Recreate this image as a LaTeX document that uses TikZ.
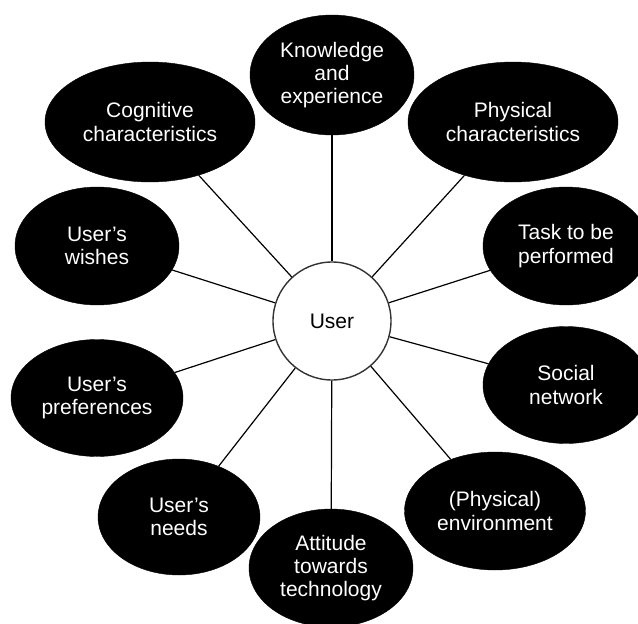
\documentclass[tikz,border=0pt]{standalone}
\usepackage{fontspec}
\setmainfont{Liberation Sans}
\usetikzlibrary{shapes.geometric}

\begin{document}
\begin{tikzpicture}[
    x=1pt, y=-1pt,
    bubble/.style={draw=black, fill=black, ellipse, inner sep=0pt, text=white, align=center, font=\fontsize{21}{23.3}\selectfont},
    hub/.style={draw=black!80, fill=white, circle, minimum size=118pt, line width=1.4pt, font=\fontsize{21}{23.3}\selectfont},
    link/.style={line width=1.2pt}
]
\useasboundingbox (0,0) rectangle (638,624);
\clip (0,0) rectangle (638,624);

% Centre
\node[hub] (user) at (332,321) {User};

% Upper ring
\node[bubble, minimum width=164pt, minimum height=120pt] (knowledge) at (332,75) {Knowledge\\and\\experience};
\node[bubble, minimum width=210pt, minimum height=120pt] (cognitive) at (150,122) {Cognitive\\characteristics};
\node[bubble, minimum width=210pt, minimum height=120pt] (physical) at (513,122) {Physical\\characteristics};

% Sides
\node[bubble, minimum width=164pt, minimum height=118pt] (wishes) at (97,246) {User’s\\wishes};
\node[bubble, minimum width=166pt, minimum height=118pt] (task) at (566,246) {Task to be\\performed};
\node[bubble, minimum width=172pt, minimum height=117pt] (preferences) at (97,398) {User’s\\preferences};
\node[bubble, minimum width=166pt, minimum height=117pt] (social) at (566,385) {Social\\network};

% Lower ring
\node[bubble, minimum width=162pt, minimum height=116pt] (needs) at (179,517) {User’s\\needs};
\node[bubble, minimum width=164pt, minimum height=118pt] (attitude) at (331,568) {Attitude\\towards\\technology};
\node[bubble, minimum width=181pt, minimum height=118pt] (environment) at (495,511) {(Physical)\\environment};

% Links
\draw[link] (user) -- (knowledge);
\draw[link] (user) -- (cognitive);
\draw[link] (user) -- (physical);
\draw[link] (user) -- (wishes);
\draw[link] (user) -- (task);
\draw[link] (user) -- (preferences);
\draw[link] (user) -- (social);
\draw[link] (user) -- (needs);
\draw[link] (user) -- (attitude);
\draw[link] (user) -- (environment);

\end{tikzpicture}
\end{document}
